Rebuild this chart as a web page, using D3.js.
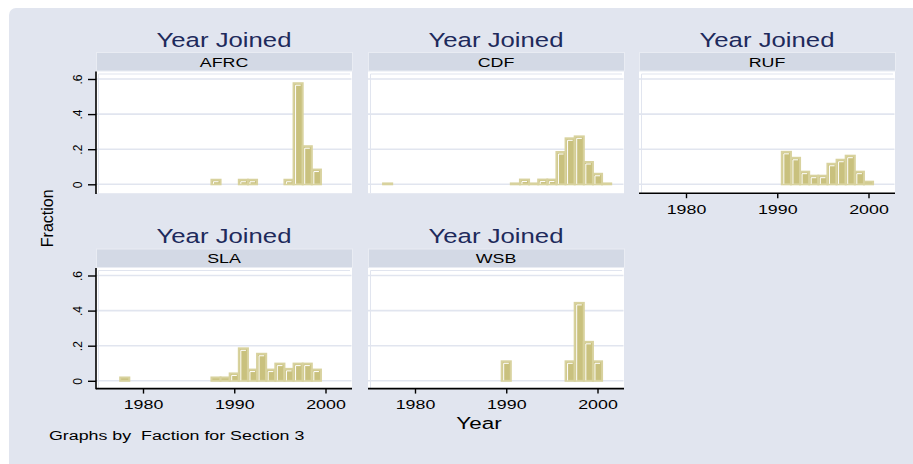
<!DOCTYPE html>
<html><head><meta charset="utf-8">
<script src="https://cdn.jsdelivr.net/npm/d3@7"></script>
<style>
body{margin:0;background:#fff}
text{font-family:"Liberation Sans",Arial,Helvetica,sans-serif}
</style>
</head><body>
<svg id="chart" width="913" height="464"></svg>
<script>
// ---- data ----
const factions = ["AFRC", "CDF", "RUF", "SLA", "WSB"];
const afrcYears = [1988, 1991, 1992, 1996, 1997, 1998, 1999];
const afrcFrac  = [0.026, 0.026, 0.026, 0.026, 0.576, 0.217, 0.084];
const cdfYears  = [1977, 1991, 1992, 1993, 1994, 1995, 1996, 1997, 1998, 1999, 2000, 2001];
const cdfFrac   = [0.005, 0.005, 0.027, 0.005, 0.027, 0.027, 0.184, 0.262, 0.273, 0.127, 0.060, 0.005];
const rufYears  = [1991, 1992, 1993, 1994, 1995, 1996, 1997, 1998, 1999, 2000];
const rufFrac   = [0.185, 0.151, 0.072, 0.049, 0.049, 0.117, 0.140, 0.163, 0.072, 0.015];
const slaYears  = [1978, 1988, 1989, 1990, 1991, 1992, 1993, 1994, 1995, 1996, 1997, 1998, 1999];
const slaFrac   = [0.019, 0.019, 0.019, 0.042, 0.185, 0.064, 0.154, 0.064, 0.098, 0.068, 0.098, 0.098, 0.064];
const wsbYears  = [1990, 1997, 1998, 1999, 2000];
const wsbFrac   = [0.111, 0.111, 0.444, 0.222, 0.111];

const xTickValues = [1980, 1990, 2000];
const yTickValues = [0, 0.2, 0.4, 0.6];
const yTickLabels = ["0", ".2", ".4", ".6"];
const panelTitle = "Year Joined";
const xTitle = "Year";
const yTitle = "Fraction";
const noteText = "Graphs by  Faction for Section 3";

const seriesYears = [afrcYears, cdfYears, rufYears, slaYears, wsbYears];
const seriesFrac  = [afrcFrac, cdfFrac, rufFrac, slaFrac, wsbFrac];

// ---- layout ----
const SX = 1.32;                 // horizontal text stretch seen in the reference
const W = 256;
const colX = [96, 368, 639];
const stripTop = [52, 248.5];
const stripH = 19.5;
const zeroY = [184.3, 380.8];
const bottomY = [193.2, 388.6];
const pxPerUnit = 175.5;
const panelPos = [[0,0],[0,1],[0,2],[1,0],[1,1]];
const showX = [false, false, true, true, true];
const showY = [true, false, false, true, false];

const C = {
  bg: "#E1E5EF", strip: "#D3D9E5", stripEdge: "#E9ECF3", grid: "#E1E5EF",
  title: "#1E2A5C", fill: "#C9C17E", edge: "#D8D29E"
};

const svg = d3.select("#chart");
svg.append("rect").attr("x", 9).attr("y", 8).attr("width", 930).attr("height", 480)
  .attr("rx", 7).attr("fill", C.bg);

function htext(g, x, y, str, size, anchor, fill) {
  return g.append("text")
    .attr("transform", `translate(${x},${y}) scale(${SX},1)`)
    .attr("text-anchor", anchor).attr("font-size", size)
    .attr("fill", fill || "#000").style("white-space", "pre").text(str);
}

factions.forEach((name, i) => {
  const [r, c] = panelPos[i];
  const x0 = colX[c];
  const top = stripTop[r] + stripH;
  const bot = bottomY[r];
  const x = d3.scaleLinear().domain([1980, 2000]).range([x0 + 47, x0 + 47 + 182.5]);
  const y = d3.scaleLinear().domain([0, 0.6]).range([zeroY[r], zeroY[r] - 0.6 * pxPerUnit]);
  const g = svg.append("g");

  // panel title
  htext(g, x0 + W / 2, stripTop[r] - 5.5, panelTitle, 19.5, "middle", C.title);

  // strip
  g.append("rect").attr("x", x0 + 0.5).attr("y", stripTop[r] + 0.5)
    .attr("width", W).attr("height", stripH - 1)
    .attr("fill", C.strip).attr("stroke", C.stripEdge).attr("stroke-width", 1);
  htext(g, x0 + W / 2, stripTop[r] + 14.5, name, 13.5, "middle", "#000");

  // plot region
  g.append("rect").attr("x", x0).attr("y", top).attr("width", W).attr("height", bot - top)
    .attr("fill", "#fff");
  g.append("path")
    .attr("d", `M${x0 + 2.5},${bot}V${top + 2.5}H${x0 + W - 2}`)
    .attr("fill", "none").attr("stroke", C.grid).attr("stroke-width", 1);
  g.selectAll(".grid").data(yTickValues).enter().append("line")
    .attr("x1", x0).attr("x2", x0 + W - 0.5)
    .attr("y1", d => y(d)).attr("y2", d => y(d))
    .attr("stroke", C.grid).attr("stroke-width", 1.6);

  // bars
  const data = seriesYears[i].map((yr, j) => ({ yr, v: seriesFrac[i][j] }));
  const bars = g.selectAll(".bar").data(data).enter().append("g");
  bars.append("rect")
    .attr("x", d => x(d.yr - 0.5)).attr("y", d => y(d.v))
    .attr("width", d => x(d.yr + 0.5) - x(d.yr - 0.5))
    .attr("height", d => y(0) - y(d.v))
    .attr("fill", C.fill).attr("stroke", C.edge).attr("stroke-width", 2);
  bars.filter(d => y(0) - y(d.v) > 4).append("path")
    .attr("d", d => `M${x(d.yr - 0.5) + 2},${y(0) - 0.5}V${y(d.v) + 2}H${x(d.yr + 0.5) - 2}`)
    .attr("fill", "none").attr("stroke", "#fff").attr("stroke-width", 1);

  // y axis
  if (showY[i]) {
    const ax = g.append("g").attr("transform", `translate(${x0},0)`)
      .call(d3.axisLeft(y).tickValues(yTickValues).tickSize(8).tickSizeOuter(0)
        .tickFormat((d, k) => yTickLabels[k]));
    ax.select(".domain").remove();
    ax.append("line").attr("x1", 0).attr("x2", 0).attr("y1", top).attr("y2", bot + 0.7)
      .attr("stroke", "#000").attr("stroke-width", 1.6);
    ax.selectAll(".tick line").attr("stroke", "#000").attr("stroke-width", 1.4);
    ax.selectAll(".tick text").attr("x", null).attr("dy", null).attr("y", null)
      .attr("transform", "translate(-14.5,0) rotate(-90)")
      .attr("text-anchor", "middle").attr("font-size", 12)
      .attr("font-family", null).attr("fill", "#000");
  }
  // x axis
  if (showX[i]) {
    const ax = g.append("g").attr("transform", `translate(0,${bot})`)
      .call(d3.axisBottom(x).tickValues(xTickValues).tickSize(5).tickSizeOuter(0).tickFormat(d3.format("d")));
    ax.select(".domain").remove();
    ax.append("line").attr("x1", x0).attr("x2", x0 + W).attr("y1", 0).attr("y2", 0)
      .attr("stroke", "#000").attr("stroke-width", 1.6);
    ax.selectAll(".tick line").attr("stroke", "#000").attr("stroke-width", 1.4);
    ax.selectAll(".tick text").attr("y", null).attr("dy", null)
      .attr("transform", `translate(0,20.6) scale(${SX},1)`)
      .attr("font-size", 13.5).attr("font-family", null).attr("fill", "#000");
  }
});

// axis titles and note
svg.append("text").attr("transform", "translate(53.3,218.3) rotate(-90)")
  .attr("text-anchor", "middle").attr("font-size", 16).text(yTitle);
htext(svg, 479, 429, xTitle, 17, "middle", "#000");
htext(svg, 49, 440, noteText, 13.5, "start", "#000");
</script>
</body></html>
